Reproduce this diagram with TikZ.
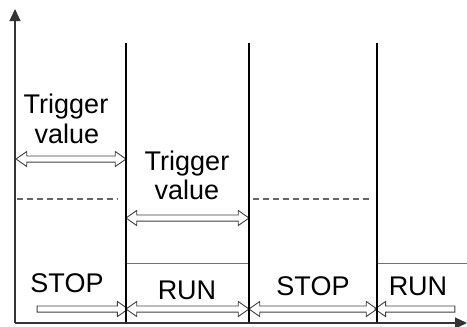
\documentclass[tikz,border=0pt]{standalone}
\usepackage{fontspec}
\setmainfont{Liberation Sans}
\usetikzlibrary{arrows.meta,shapes.arrows,calc}
\begin{document}
\begin{tikzpicture}[x=1pt,y=-1pt,
  axis/.style={line width=1.4pt, draw=black!80, -{Triangle[length=12pt,width=11pt]}},
  edgeline/.style={line width=2.3pt, draw=black},
  level/.style={line width=1pt, draw=black!55},
  thr/.style={line width=1.3pt, draw=black!60, dash pattern=on 6pt off 4pt},
  darr/.style={double arrow, draw=black!75, fill=white, line width=0.9pt,
    inner xsep=0pt, inner ysep=2.6pt, double arrow head extend=4.5pt,
    double arrow tip angle=70},
  sarr/.style={single arrow, draw=black!75, fill=white, line width=0.9pt,
    inner xsep=0pt, inner ysep=2.6pt, single arrow head extend=4.5pt,
    single arrow tip angle=70},
  lbl/.style={font=\fontsize{27}{31}\selectfont, inner sep=0pt, anchor=base}]
\useasboundingbox (0,0) rectangle (467,327);
% coordinates
\coordinate (O) at (15,323);
\coordinate (Ytop) at (15,9);
\coordinate (Xend) at (467,323);
\coordinate (v1t) at (126,43); \coordinate (v1b) at (126,323);
\coordinate (v2t) at (249,43); \coordinate (v2b) at (249,323);
\coordinate (v3t) at (377,43); \coordinate (v3b) at (377,323);
\coordinate (ta) at (16,159); \coordinate (tb) at (126,159);
\coordinate (tc) at (126,218); \coordinate (td) at (249,218);
\coordinate (b0) at (35,309); \coordinate (b1) at (126,309);
\coordinate (b2) at (249,309); \coordinate (b3) at (377,309);
\coordinate (b4) at (457,309);
\coordinate (l1a) at (126,263); \coordinate (l1b) at (249,263);
\coordinate (l2a) at (377,263); \coordinate (l2b) at (467,263);
\coordinate (d1a) at (17,199); \coordinate (d1b) at (118,199);
\coordinate (d2a) at (253,199); \coordinate (d2b) at (372,199);
% level lines
\draw[level] (l1a) -- (l1b);
\draw[level] (l2a) -- (l2b);
\draw[thr] (d1a) -- (d1b);
\draw[thr] (d2a) -- (d2b);
% arrows
\path let \p1=(ta), \p2=(tb), \n1={veclen(\x2-\x1,\y2-\y1)} in
  node[darr, minimum height=\n1] (tv1) at ($(ta)!0.5!(tb)$) {};
\path let \p1=(tc), \p2=(td), \n1={veclen(\x2-\x1,\y2-\y1)} in
  node[darr, minimum height=\n1] (tv2) at ($(tc)!0.5!(td)$) {};
\path let \p1=(b0), \p2=(b1), \n1={veclen(\x2-\x1,\y2-\y1)} in
  node[sarr, minimum height=\n1] (sa1) at ($(b0)!0.5!(b1)$) {};
\path let \p1=(b1), \p2=(b2), \n1={veclen(\x2-\x1,\y2-\y1)} in
  node[darr, minimum height=\n1] (ra1) at ($(b1)!0.5!(b2)$) {};
\path let \p1=(b2), \p2=(b3), \n1={veclen(\x2-\x1,\y2-\y1)} in
  node[darr, minimum height=\n1] (sa2) at ($(b2)!0.5!(b3)$) {};
\path let \p1=(b3), \p2=(b4), \n1={veclen(\x2-\x1,\y2-\y1)} in
  node[sarr, shape border rotate=180, minimum height=\n1] (ra2) at ($(b3)!0.5!(b4)$) {};
% edges
\draw[edgeline] (v1t) -- (v1b);
\draw[edgeline] (v2t) -- (v2b);
\draw[edgeline] (v3t) -- (v3b);
% axes
\draw[axis] (O) -- (Ytop);
\draw[axis] (O) -- (Xend);
% labels
\node[lbl] (trig1) at (66,113) {Trigger};
\node[lbl] (val1) at (67,143) {value};
\node[lbl] (trig2) at (187,170) {Trigger};
\node[lbl] (val2) at (187,199) {value};
\node[lbl] (stop1) at (67,292) {STOP};
\node[lbl] (run1) at (187,299) {RUN};
\node[lbl] (stop2) at (313,295) {STOP};
\node[lbl] (run2) at (418,295) {RUN};
\end{tikzpicture}
\end{document}
